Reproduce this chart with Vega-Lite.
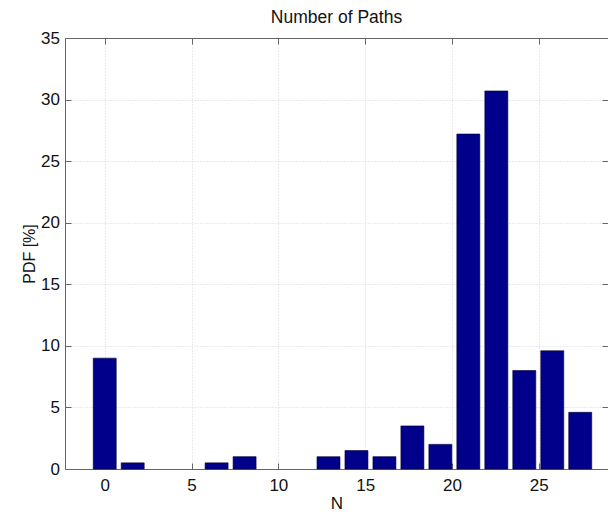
{
  "$schema": "https://vega.github.io/schema/vega-lite/v6.json",
  "width": 543,
  "height": 431,
  "autosize": {"type": "none"},
  "padding": {"left": 65, "top": 38, "right": 0, "bottom": 43},
  "background": "white",
  "title": {
    "text": "Number of Paths",
    "font": "Liberation Sans",
    "fontSize": 17.5,
    "fontWeight": "normal",
    "color": "#111111",
    "frame": "group",
    "anchor": "middle",
    "offset": 3
  },
  "data": {
    "values": [
      {"N": 0, "pdf": 9.0},
      {"N": 1.611, "pdf": 0.5},
      {"N": 6.444, "pdf": 0.5},
      {"N": 8.056, "pdf": 1.0},
      {"N": 12.889, "pdf": 1.0},
      {"N": 14.5, "pdf": 1.5},
      {"N": 16.111, "pdf": 1.0},
      {"N": 17.722, "pdf": 3.5},
      {"N": 19.333, "pdf": 2.0},
      {"N": 20.944, "pdf": 27.2},
      {"N": 22.556, "pdf": 30.7},
      {"N": 24.167, "pdf": 8.0},
      {"N": 25.778, "pdf": 9.6},
      {"N": 27.389, "pdf": 4.6}
    ]
  },
  "resolve": {"axis": {"x": "independent", "y": "independent"}},
  "layer": [
    {
      "mark": {"type": "bar", "width": 23, "fill": "#00008B", "stroke": "#000033", "strokeWidth": 0.6},
      "encoding": {
        "x": {
          "field": "N",
          "type": "quantitative",
          "scale": {"domain": [-2, 28.7], "nice": false, "zero": false},
          "axis": {
            "orient": "bottom",
            "title": "N",
            "values": [0, 5, 10, 15, 20, 25],
            "grid": true,
            "gridColor": "#d4d4d4",
            "gridDash": [1, 2],
            "tickSize": -6,
            "tickColor": "#666666",
            "domainColor": "#666666",
            "labelFont": "Liberation Sans",
            "labelFontSize": 17,
            "labelColor": "#111111",
            "labelPadding": 14,
            "titleFont": "Liberation Sans",
            "titleFontSize": 17,
            "titleFontWeight": "normal",
            "titleColor": "#111111",
            "titlePadding": 2
          }
        },
        "y": {
          "field": "pdf",
          "type": "quantitative",
          "scale": {"domain": [0, 35], "nice": false},
          "axis": {
            "orient": "left",
            "title": "PDF [%]",
            "values": [0, 5, 10, 15, 20, 25, 30, 35],
            "grid": true,
            "gridColor": "#d4d4d4",
            "gridDash": [1, 2],
            "tickSize": -6,
            "tickColor": "#666666",
            "domainColor": "#666666",
            "labelFont": "Liberation Sans",
            "labelFontSize": 17,
            "labelColor": "#111111",
            "labelPadding": 11.5,
            "titleFont": "Liberation Sans",
            "titleFontSize": 16,
            "titleFontWeight": "normal",
            "titleColor": "#111111",
            "titlePadding": 3
          }
        }
      }
    },
    {
      "mark": {"type": "bar", "width": 23, "fillOpacity": 0, "strokeOpacity": 0},
      "encoding": {
        "x": {
          "field": "N",
          "type": "quantitative",
          "axis": {
            "orient": "top",
            "title": null,
            "values": [0, 5, 10, 15, 20, 25],
            "labels": false,
            "grid": false,
            "tickSize": -6,
            "tickColor": "#666666",
            "domainColor": "#666666"
          }
        },
        "y": {
          "field": "pdf",
          "type": "quantitative",
          "axis": {
            "orient": "right",
            "title": null,
            "values": [0, 5, 10, 15, 20, 25, 30, 35],
            "labels": false,
            "grid": false,
            "tickSize": -6,
            "tickColor": "#666666",
            "domainColor": "#666666"
          }
        }
      }
    }
  ],
  "config": {"view": {"stroke": null}}
}
